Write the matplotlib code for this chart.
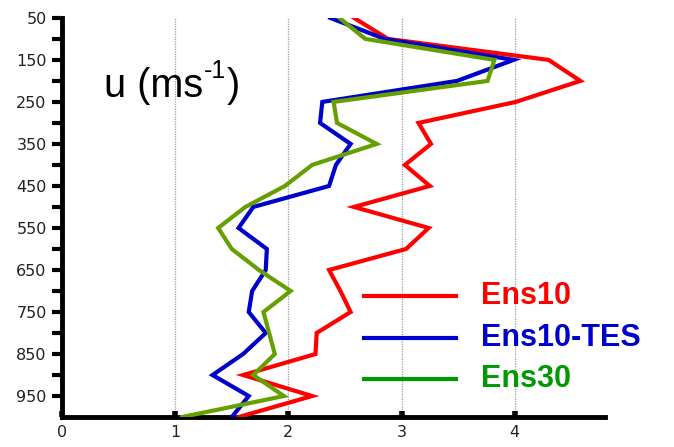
import numpy as np
import matplotlib.pyplot as plt
from matplotlib.ticker import MultipleLocator, FixedLocator

# Pressure levels (hPa) and mean u profiles (m/s)
levels = [50, 100, 150, 200, 250, 300, 350, 400, 450, 500,
          550, 600, 650, 700, 750, 800, 850, 900, 950, 1000]
u_ens10 = [2.58, 2.88, 4.30, 4.58, 4.01, 3.15, 3.26, 3.03, 3.25, 2.58,
           3.24, 3.04, 2.36, 2.46, 2.55, 2.25, 2.24, 1.60, 2.21, 1.56]
u_ens10_tes = [2.37, 2.85, 3.99, 3.49, 2.30, 2.28, 2.55, 2.42, 2.36, 1.69,
               1.56, 1.81, 1.80, 1.68, 1.65, 1.80, 1.60, 1.33, 1.65, 1.50]
u_ens30 = [2.45, 2.68, 3.82, 3.76, 2.40, 2.43, 2.78, 2.21, 1.97, 1.62,
           1.38, 1.50, 1.74, 2.02, 1.78, 1.83, 1.88, 1.69, 1.96, 1.06]

series = [
    ('Ens10', u_ens10, '#ff0000', '#ff0000'),
    ('Ens10-TES', u_ens10_tes, '#0000cc', '#0000cc'),
    ('Ens30', u_ens30, '#66a000', '#009a00'),
]

fig = plt.figure(figsize=(6.74, 4.47), dpi=100)
ax = fig.add_axes([0.092, 0.067, 0.806, 0.893])

for name, vals, col, _ in series:
    ax.plot(vals, levels, color=col, lw=3, solid_joinstyle='miter', zorder=3)

ax.set_xlim(0, 4.8)
ax.set_ylim(1000, 50)

# vertical dotted grid
for xv in [1, 2, 3, 4]:
    ax.axvline(xv, color='#999999', lw=0.9, ls=(0, (1, 1)), zorder=1)

ax.spines['top'].set_visible(False)
ax.spines['right'].set_visible(False)
ax.spines['left'].set_linewidth(3.5)
ax.spines['bottom'].set_linewidth(3.5)

ax.yaxis.set_major_locator(FixedLocator(list(range(50, 1000, 100))))
ax.yaxis.set_minor_locator(FixedLocator(list(range(100, 1000, 100))))
ax.xaxis.set_major_locator(MultipleLocator(1))
ax.tick_params(axis='y', which='both', direction='out', length=7, width=3,
               labelsize=11.5, pad=4, labelcolor='#222222')
ax.tick_params(axis='x', which='major', direction='in', length=4, width=4,
               labelsize=11.5, pad=6, labelcolor='#222222')

# panel label u (ms-1), superscript drawn as a separate raised piece
t1 = ax.text(0.078, 0.83, 'u (ms', transform=ax.transAxes,
             ha='left', va='center', fontsize=28.5, family='Liberation Sans')
t2 = ax.annotate('-1', xy=(1, 0.58), xycoords=t1, ha='left', va='bottom',
                 fontsize=18, family='Liberation Sans')
ax.annotate(')', xy=(1, 0), xycoords=(t2, t1), xytext=(1, 0),
            textcoords='offset points', ha='left', va='bottom',
            fontsize=28.5, family='Liberation Sans',
            annotation_clip=False)

# hand-placed legend
leg_y = [296, 338, 379]
for (name, _, _, lcol), yp in zip(series, leg_y):
    yv = 50 + (yp - 18) * 950 / 399
    ax.plot([2.67, 3.48], [yv, yv], color=lcol, lw=3, zorder=3)
    ax.text(3.7, yv, name, color=lcol, fontsize=22, fontweight='bold',
            family='Liberation Sans', va='center', ha='left')

fig.savefig('out.png', dpi=100)
